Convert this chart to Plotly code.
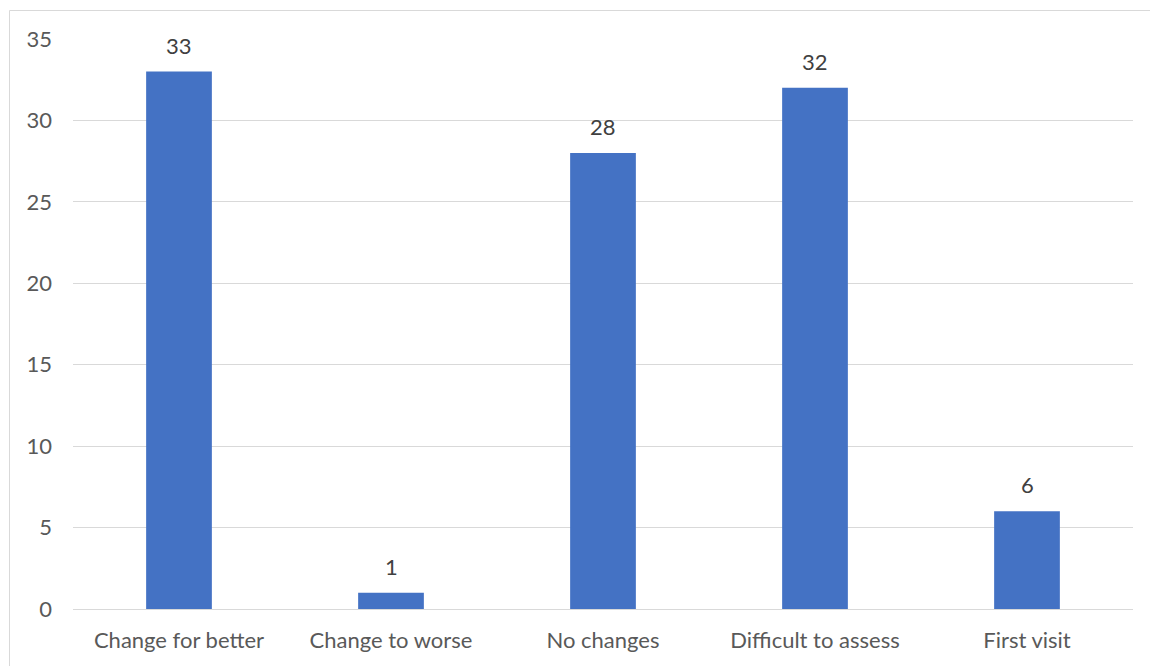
import plotly.graph_objects as go

categories = ["Change for better", "Change to worse", "No changes", "Difficult to assess", "First visit"]
values = [33, 1, 28, 32, 6]
y_ticks = [0, 5, 10, 15, 20, 25, 30, 35]

font_family = "Lato, 'Open Sans', sans-serif"
text_color = "#595959"
grid_color = "#d9d9d9"
fs = 22

fig = go.Figure(
    go.Bar(
        x=categories,
        y=values,
        marker=dict(color="#4472C4", line=dict(width=0)),
        width=0.31,
        hoverinfo="x+y",
    )
)

for c, v in zip(categories, values):
    fig.add_annotation(
        x=c, y=v, text=str(v), showarrow=False,
        xref="x", yref="y", yanchor="bottom", yshift=11,
        font=dict(family=font_family, size=fs, color="#404040"),
    )

fig.update_layout(
    width=1150,
    height=666,
    margin=dict(l=73, r=17, t=39, b=57),
    paper_bgcolor="white",
    plot_bgcolor="white",
    showlegend=False,
    font=dict(family=font_family, size=fs, color=text_color),
    xaxis=dict(
        showgrid=False,
        showline=True,
        linecolor=grid_color,
        linewidth=1,
        ticks="",
        tickfont=dict(size=fs, color=text_color),
        ticklabelstandoff=12,
    ),
    yaxis=dict(
        range=[0, 35],
        tickvals=y_ticks,
        showgrid=True,
        gridcolor=grid_color,
        gridwidth=1,
        zeroline=False,
        showline=False,
        ticks="",
        tickfont=dict(size=fs, color=text_color),
        ticklabelstandoff=20,
    ),
    shapes=[
        dict(
            type="rect",
            xref="paper",
            yref="paper",
            x0=(9.5 - 73) / 1060,
            x1=1.05,
            y0=-0.2,
            y1=(609 - 10.5) / 570,
            line=dict(color=grid_color, width=1),
            fillcolor="rgba(0,0,0,0)",
            layer="below",
        )
    ],
)

fig.write_html("out.html")
